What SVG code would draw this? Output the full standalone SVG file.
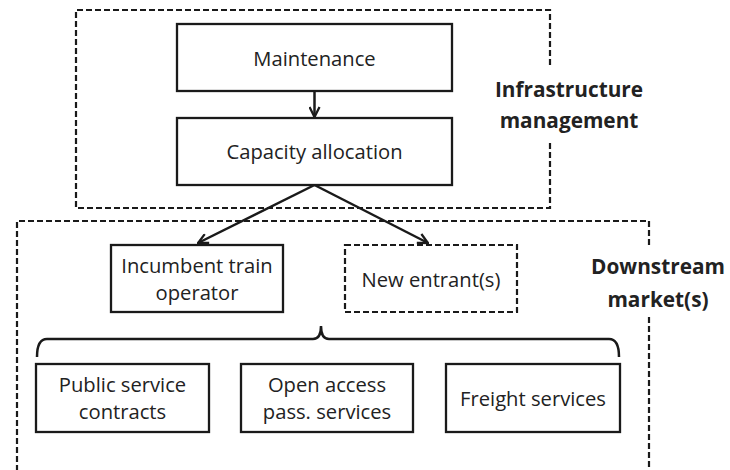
<svg xmlns="http://www.w3.org/2000/svg" width="730" height="470" viewBox="0 0 730 470">
<defs>
<style>
.box{fill:#fff;stroke:#1a1a1a;stroke-width:2.3}
.dbox{fill:#fff;stroke:#1a1a1a;stroke-width:2.2;stroke-dasharray:6 3}
.frame{fill:none;stroke:#1a1a1a;stroke-width:2.2;stroke-dasharray:6 3}
.t{font-family:"Open Sans","Liberation Sans",sans-serif;font-size:20.2px;fill:#222;text-anchor:middle}
.b{font-family:"Open Sans","Liberation Sans",sans-serif;font-size:20.8px;font-weight:bold;fill:#222;text-anchor:middle}
.c{fill:none;stroke:#1a1a1a;stroke-width:2.5}
</style>
<marker id="arr" viewBox="0 0 12 12" refX="11" refY="6" markerWidth="12" markerHeight="12" markerUnits="userSpaceOnUse" orient="auto">
<path d="M1,1 L11,6 L1,11" fill="none" stroke="#1a1a1a" stroke-width="2.3"/>
</marker>
</defs>
<rect width="730" height="470" fill="#fff"/>
<g id="infrastructure-frame">
<path class="frame" d="M550,65 V10 H76 V208 H550 V140"/>
<text class="b" x="569" y="97">Infrastructure</text>
<text class="b" x="569" y="128">management</text>
</g>
<g id="downstream-frame">
<path class="frame" d="M649,245 V221 H17 V470"/>
<path class="frame" d="M649,317 V470"/>
<text class="b" x="658" y="274">Downstream</text>
<text class="b" x="658" y="307">market(s)</text>
</g>
<g id="maintenance">
<rect class="box" x="177" y="24" width="275" height="67"/>
<text class="t" x="314.5" y="66">Maintenance</text>
</g>
<g id="capacity-allocation">
<rect class="box" x="177" y="118" width="275" height="67"/>
<text class="t" x="314.5" y="159">Capacity allocation</text>
</g>
<g id="incumbent">
<rect class="box" x="111" y="245" width="172" height="67"/>
<text class="t" x="197" y="273">Incumbent train</text>
<text class="t" x="197" y="300">operator</text>
</g>
<g id="new-entrants">
<rect class="dbox" x="345" y="245" width="172" height="67"/>
<text class="t" x="431" y="287">New entrant(s)</text>
</g>
<g id="public-service">
<rect class="box" x="36" y="364" width="173" height="68"/>
<text class="t" x="122.5" y="392">Public service</text>
<text class="t" x="122.5" y="419">contracts</text>
</g>
<g id="open-access">
<rect class="box" x="241" y="364" width="172" height="68"/>
<text class="t" x="327" y="392">Open access</text>
<text class="t" x="327" y="419">pass. services</text>
</g>
<g id="freight">
<rect class="box" x="446" y="364" width="174" height="68"/>
<text class="t" x="533" y="406">Freight services</text>
</g>
<g id="connectors">
<line class="c" x1="314.5" y1="91" x2="314.5" y2="117" marker-end="url(#arr)"/>
<line class="c" x1="314.5" y1="185" x2="198" y2="243" marker-end="url(#arr)"/>
<line class="c" x1="314.5" y1="185" x2="428" y2="243" marker-end="url(#arr)"/>
<path class="c" stroke-width="2.2" d="M37,357 Q37,339 47,339 H313 Q321,339 321,326 Q321,339 329,339 H609 Q619,339 619,357"/>
</g>
</svg>
